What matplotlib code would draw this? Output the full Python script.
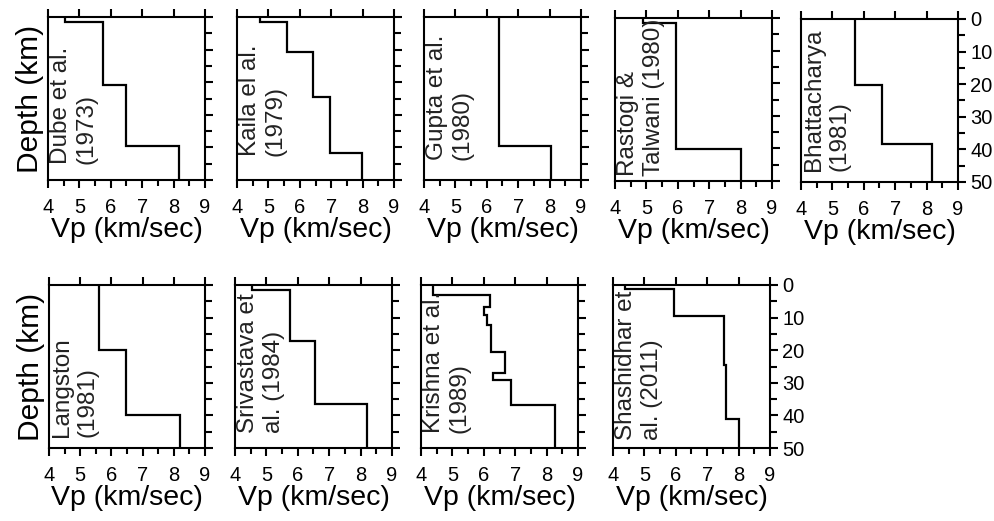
import numpy as np
import matplotlib.pyplot as plt

plt.rcParams['font.family'] = ['Liberation Sans', 'DejaVu Sans']

# velocity models: Vp (km/s) per layer and layer boundary depths (km)
labels = ['Dube et al.\n(1973)', 'Kaila el al.\n(1979)', 'Gupta et al.\n(1980)',
          'Rastogi &\nTalwani (1980)', 'Bhattacharya\n(1981)', 'Langston\n(1981)',
          'Srivastava et\nal. (1984)', 'Krishna et al.\n(1989)', 'Shashidhar et\nal. (2011)']

vp_dube = [4.55, 5.75, 6.5, 8.18]
z_dube = [0, 1.5, 21, 39.5, 50]
vp_kaila = [4.72, 5.59, 6.42, 6.96, 7.98]
z_kaila = [0, 1.6, 10.7, 24.5, 41.6, 50]
vp_gupta = [6.4, 8.06]
z_gupta = [0, 39.6, 50]
vp_rastogi = [4.9, 5.94, 8.0]
z_rastogi = [0, 1.4, 40.3, 50]
vp_bhatt = [5.72, 6.57, 8.18]
z_bhatt = [0, 20.1, 38.3, 50]
vp_langston = [5.6, 6.46, 8.19]
z_langston = [0, 20.0, 40.0, 50]
vp_sriv = [4.53, 5.74, 6.54, 8.2]
z_sriv = [0, 1.5, 17.2, 36.6, 50]
vp_krishna = [4.37, 6.21, 6.0, 6.1, 6.24, 6.66, 6.3, 6.86, 8.27]
z_krishna = [0, 3.1, 6.9, 9.2, 12.3, 20.5, 26.9, 29.2, 36.9, 50]
vp_shash = [4.37, 5.93, 7.52, 7.6, 8.0]
z_shash = [0, 1.3, 9.5, 24.6, 41.2, 50]

models = [(vp_dube, z_dube), (vp_kaila, z_kaila), (vp_gupta, z_gupta),
          (vp_rastogi, z_rastogi), (vp_bhatt, z_bhatt), (vp_langston, z_langston),
          (vp_sriv, z_sriv), (vp_krishna, z_krishna), (vp_shash, z_shash)]

W, H = 995, 521
fig = plt.figure(figsize=(W / 100, H / 100), dpi=100)

# panel boxes in pixels: left, top, width, height
boxes = [(48, 17, 157, 163), (237, 17, 157, 163), (424, 17, 157, 163),
         (615, 18, 157, 163), (801, 19, 157, 163),
         (49, 285, 156, 163), (235, 285, 157, 163), (421, 285, 157, 163),
         (613, 285, 157, 163)]
# where the rotated label starts (axes fraction from bottom)
label_y = [0.10, 0.15, 0.12, 0.03, 0.07, 0.07, 0.09, 0.09, 0.05]

for i, ((vp, z), lab, (l, t, w, h)) in enumerate(zip(models, labels, boxes)):
    ax = fig.add_axes([l / W, 1 - (t + h) / H, w / W, h / H])
    ax.stairs(vp, z, orientation='horizontal', baseline=None, color='k', lw=1.6)
    ax.set_xlim(4, 9)
    ax.set_ylim(50, 0)
    ax.set_xticks(np.arange(4, 10, 1))
    ax.set_xticks(np.arange(4, 9.01, 0.5), minor=True)
    ax.set_yticks(np.arange(0, 51, 10))
    ax.set_yticks(np.arange(0, 51, 5), minor=True)
    ax.tick_params(axis='x', which='both', direction='out', width=1.5,
                   bottom=True, top=False, labelsize=14.5, pad=7)
    ax.tick_params(axis='x', which='major', length=6, top=True)
    ax.tick_params(axis='x', which='minor', length=4)
    ax.tick_params(axis='y', which='both', direction='out', width=1.5,
                   left=False, right=True, labelleft=False,
                   labelright=(i in (4, 8)), labelsize=14.5, pad=3)
    ax.tick_params(axis='y', which='major', length=6)
    ax.tick_params(axis='y', which='minor', length=5)
    for s in ax.spines.values():
        s.set_linewidth(1.5)
    ax.set_xlabel('Vp (km/sec)', fontsize=20.5, labelpad=0)
    if i in (0, 5):
        ax.set_ylabel('Depth (km)', fontsize=21.5, labelpad=3)
    ax.text(0.015, label_y[i], lab, transform=ax.transAxes, rotation=90,
            ha='left', va='bottom', fontsize=17.5, multialignment='left',
            color='#222222')

fig.savefig('out.png', dpi=100)
